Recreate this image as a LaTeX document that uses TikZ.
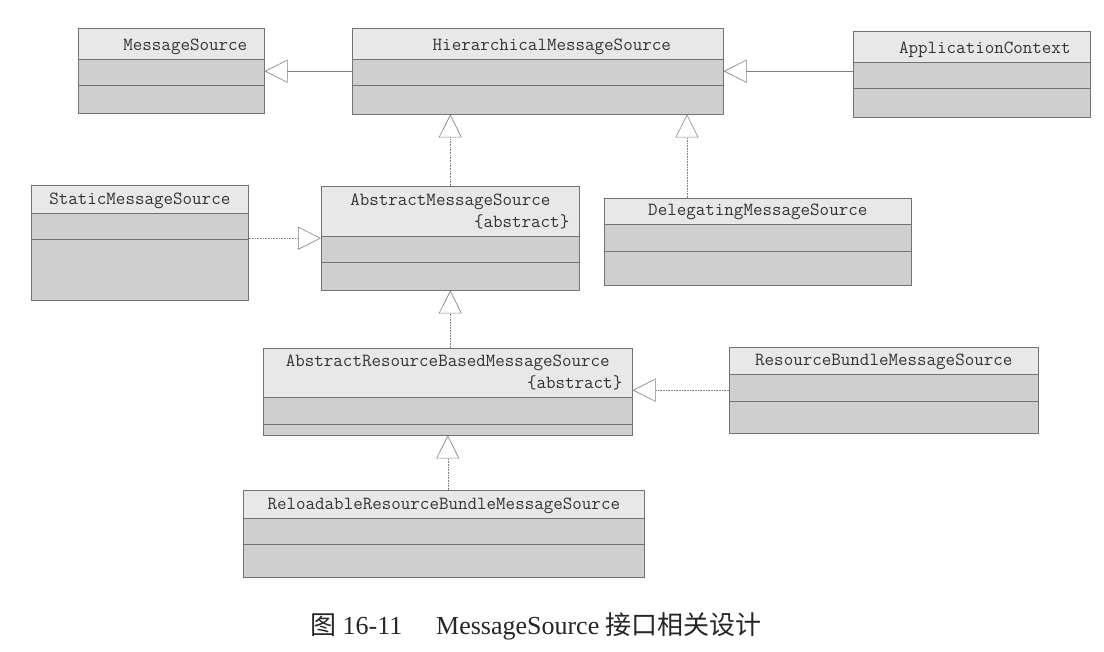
\documentclass[tikz,border=0pt]{standalone}
\usepackage{fontspec}
\usepackage{tikz}
\usetikzlibrary{arrows.meta,positioning,calc,shapes.multipart}
\newfontfamily\capfont{Liberation Serif}
\newfontfamily\cjk{Noto Sans CJK SC}
\newcommand*{\parth}[1]{\rule[-8pt]{0pt}{#1pt}}
\newcommand*{\abs}{\rule[-8pt]{0pt}{8pt}\hspace*{\fill}\{abstract\}}

\begin{document}
\begin{tikzpicture}[x=1pt, y=1pt, semithick]
    \tikzstyle{umlclass}=[rectangle split, rectangle split parts=3, draw=black!55,
        rectangle split part fill={black!9,black!19}, anchor=north west,
        inner xsep=10pt, inner ysep=0pt, align=center, text=black!80,
        font=\ttfamily\fontsize{18.5}{22}\selectfont]
    \tikzstyle{inherit}=[draw=black!50, -{Triangle[open,length=23pt,width=23pt]}]
    \tikzstyle{realize}=[inherit, densely dotted]
    \useasboundingbox (0,0) rectangle (1104,-652);
    \fill[white] (0,0) rectangle (1104,-652);
    % top row
    \node[umlclass, text width=166pt] (ms)    at (78,-28)
        {\hspace*{28pt}MessageSource\parth{30}\nodepart{second}\parth{26}\nodepart{third}\parth{27}};
    \node[umlclass, text width=351pt] (hms)   at (352,-28)
        {\hspace*{28pt}HierarchicalMessageSource\parth{30}\nodepart{second}\parth{26}\nodepart{third}\parth{28}};
    \node[umlclass, text width=217pt] (ac)    at (853,-31)
        {\hspace*{26pt}ApplicationContext\parth{30}\nodepart{second}\parth{26}\nodepart{third}\parth{28}};
    % middle row
    \node[umlclass, text width=197pt] (sms)   at (31,-185)
        {StaticMessageSource\parth{27}\nodepart{second}\parth{26}\nodepart{third}\parth{60}};
    \node[umlclass, text width=238pt] (ams)   at (321,-186)
        {\rule{0pt}{19pt}AbstractMessageSource\\\abs\nodepart{second}\parth{26}\nodepart{third}\parth{27}};
    \node[umlclass, text width=287pt] (dms)   at (604,-198)
        {DelegatingMessageSource\parth{25}\nodepart{second}\parth{27}\nodepart{third}\parth{33}};
    % lower rows
    \node[umlclass, text width=349pt] (arbms) at (263,-348)
        {\rule{0pt}{18pt}AbstractResourceBasedMessageSource\\\abs\nodepart{second}\parth{27}\nodepart{third}\rule{0pt}{10pt}};
    \node[umlclass, text width=289pt] (rbms)  at (729,-347)
        {ResourceBundleMessageSource\parth{26}\nodepart{second}\parth{27}\nodepart{third}\parth{31}};
    \node[umlclass, text width=381pt] (rrbms) at (243,-490)
        {ReloadableResourceBundleMessageSource\parth{27}\nodepart{second}\parth{26}\nodepart{third}\parth{32}};
    \coordinate (dtop) at ($(dms.north west)+(83,0)$);
    \path
(hms.west)            edge[inherit] (hms.west -| ms.east)
(ac.west |- hms.east) edge[inherit] (hms.east)
(ams.north)           edge[realize] (ams.north |- hms.south)
(dtop)                edge[realize] (dtop |- hms.south)
(sms.east |- ams.west) edge[realize] (ams.west)
(ams.south |- arbms.north) edge[realize] (ams.south)
(rbms.west)           edge[realize] (rbms.west -| arbms.east)
(arbms.south |- rrbms.north) edge[realize] (arbms.south);
    \node[font=\capfont\fontsize{26}{30}\selectfont, text=black!85] (cap) at (536,-626)
        {{\cjk 图} 16-11\hspace{1.3em}MessageSource {\cjk 接口相关设计}};
\end{tikzpicture}
\end{document}
